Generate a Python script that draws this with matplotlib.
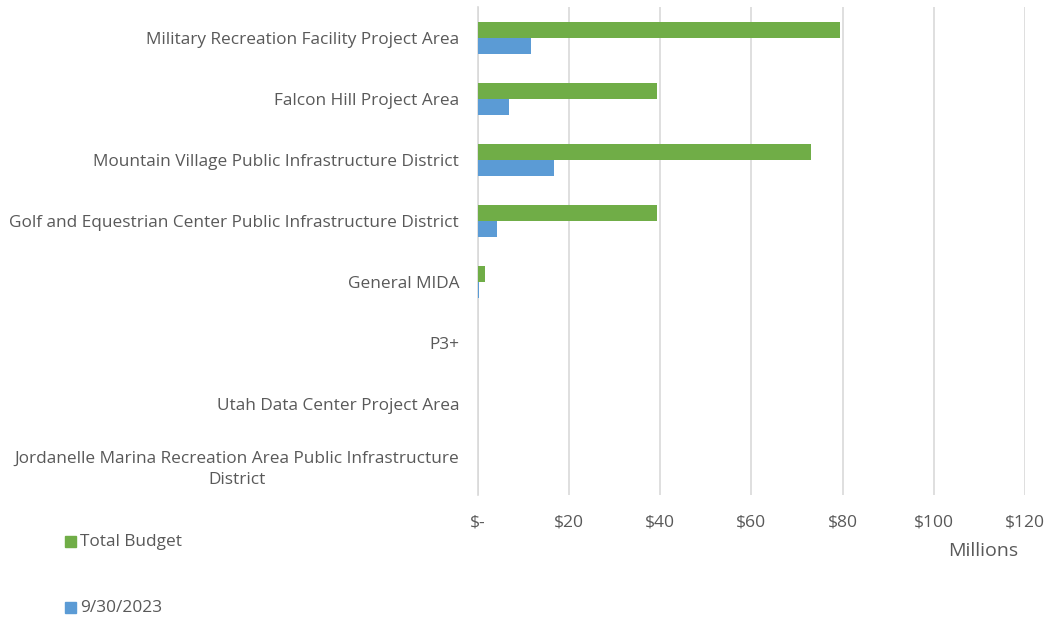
import numpy as np
import matplotlib.pyplot as plt

categories = [
    'Military Recreation Facility Project Area',
    'Falcon Hill Project Area',
    'Mountain Village Public Infrastructure District',
    'Golf and Equestrian Center Public Infrastructure District',
    'General MIDA',
    'P3+',
    'Utah Data Center Project Area',
    'Jordanelle Marina Recreation Area Public Infrastructure\nDistrict',
]
total_budget = [79.4, 39.3, 73.1, 39.2, 1.5, 0, 0, 0]
spent_0930 = [11.6, 6.8, 16.7, 4.2, 0.2, 0, 0, 0]
x_ticks = [0, 20, 40, 60, 80, 100, 120]
x_tick_labels = ['$-', '$20', '$40', '$60', '$80', '$100', '$120']

GREEN = '#70AD47'
BLUE = '#5B9BD5'
GREY = '#595959'

plt.rcParams['font.family'] = ['Open Sans', 'DejaVu Sans']

fig = plt.figure(figsize=(10.48, 6.2), dpi=100)
ax = fig.add_axes([0.456, 0.201, 0.522, 0.787])

y = np.arange(len(categories))
h = 0.262
ax.barh(y - h / 2, total_budget, height=h, color=GREEN, zorder=3)
ax.barh(y + h / 2, spent_0930, height=h, color=BLUE, zorder=3)

ax.set_ylim(len(categories) - 0.5, -0.5)
ax.set_xlim(0, 120)
ax.set_xticks(x_ticks)
ax.set_xticklabels(x_tick_labels, fontsize=12.6, color=GREY)
ax.set_yticks(y)
ax.set_yticklabels(categories, fontsize=12.4, color=GREY, ha='right',
                   multialignment='center', linespacing=1.45)
ax.tick_params(axis='y', length=0, pad=13.5)
ax.tick_params(axis='x', length=0, pad=14)
ax.grid(axis='x', color='#D9D9D9', linewidth=1.2, zorder=0)
for s in ['top', 'right', 'bottom']:
    ax.spines[s].set_visible(False)
ax.spines['left'].set_color('#D9D9D9')
ax.spines['left'].set_linewidth(1.2)

fig.text(1018 / 1048, 1 - 551 / 620, 'Millions', fontsize=14, color=GREY, ha='right', va='center')

# legend stacked at the bottom left
fig.patches.append(plt.Rectangle((65 / 1048, 1 - 546.5 / 620), 11 / 1048, 11 / 620,
                                 transform=fig.transFigure, color=GREEN, figure=fig))
fig.text(80 / 1048, 1 - 542 / 620, 'Total Budget', fontsize=12.4, color=GREY, va='center')
fig.patches.append(plt.Rectangle((65 / 1048, 1 - 612.5 / 620), 11 / 1048, 11 / 620,
                                 transform=fig.transFigure, color=BLUE, figure=fig))
fig.text(80 / 1048, 1 - 608 / 620, '9/30/2023', fontsize=12.4, color=GREY, va='center')

fig.savefig('out.png', dpi=100)
